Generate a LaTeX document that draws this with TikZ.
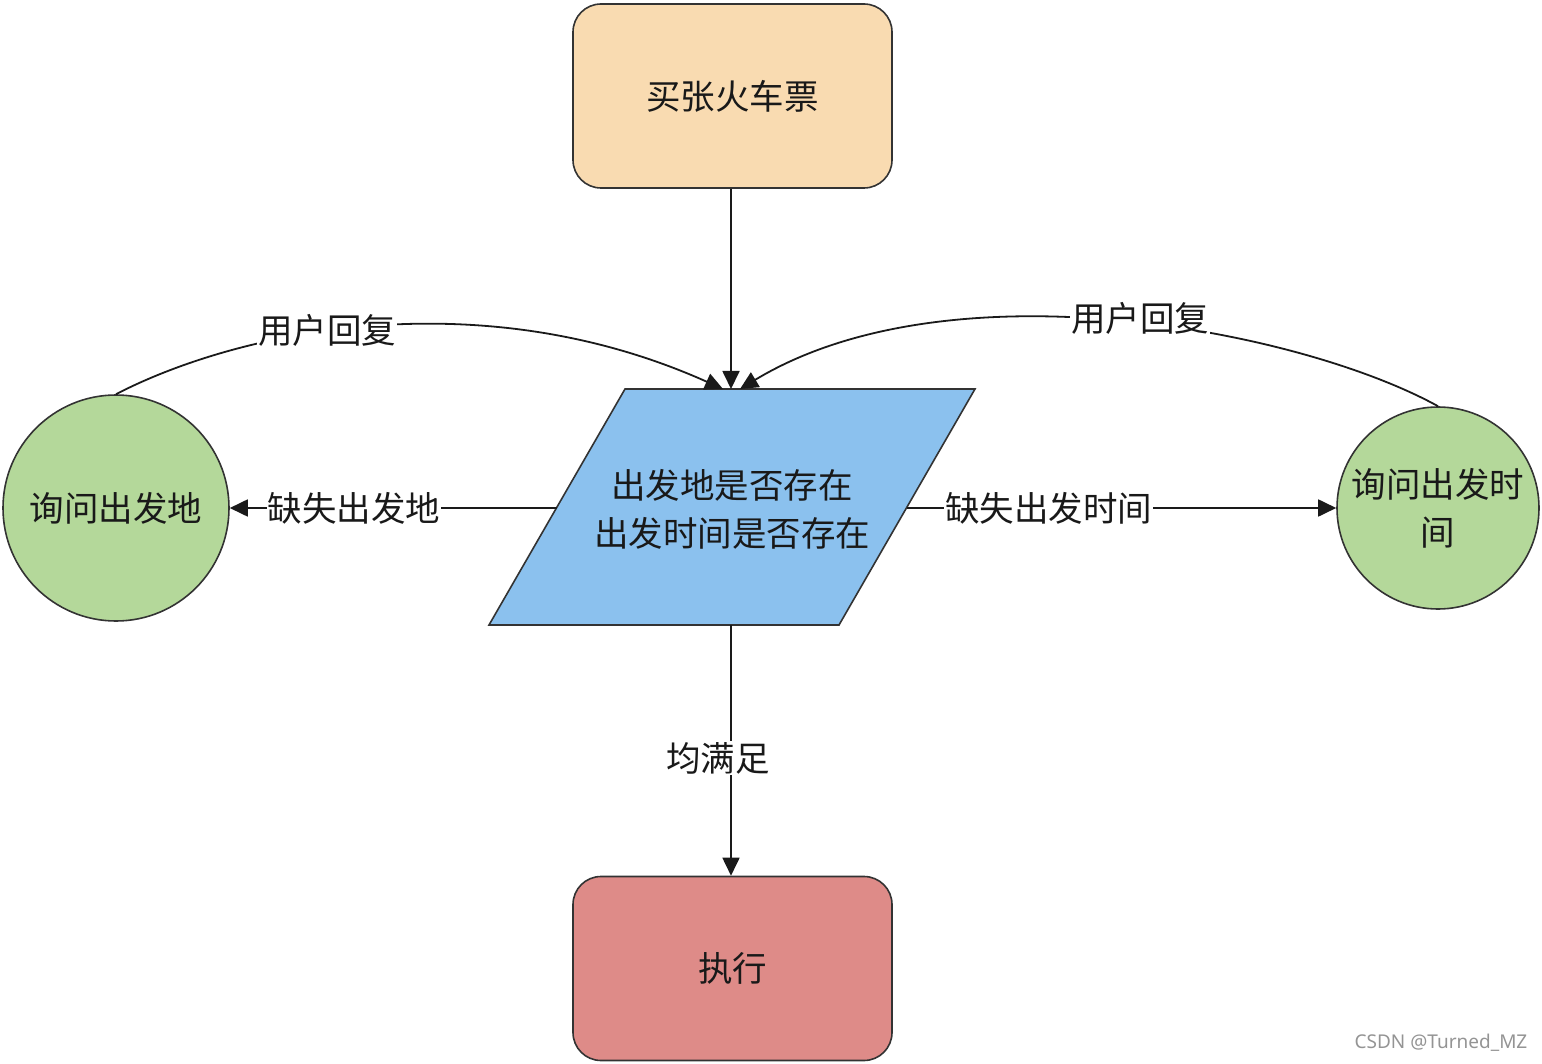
\documentclass[tikz,border=0pt]{standalone}
\usepackage{fontspec}
\setmainfont{Noto Sans}
\newfontfamily\cjk{Noto Sans CJK SC}
\usetikzlibrary{arrows.meta}
\definecolor{strokec}{HTML}{333333}
\definecolor{peach}{HTML}{F9DBB1}
\definecolor{bluef}{HTML}{8BC1EE}
\definecolor{greenf}{HTML}{B4D89A}
\definecolor{redf}{HTML}{DE8B88}
\definecolor{linec}{HTML}{1A1A1A}
\begin{document}
\begin{tikzpicture}[x=1pt,y=-1pt,
  box/.style={draw=strokec,line width=1.6pt,rounded corners=28pt,minimum width=319pt,minimum height=184pt,inner sep=0pt,font=\cjk\fontsize{34.5}{48}\selectfont,text=black!90},
  circ/.style={draw=strokec,line width=1.6pt,circle,fill=greenf,inner sep=0pt,font=\cjk\fontsize{34.5}{48}\selectfont,align=center,text=black!90},
  arr/.style={draw=linec,line width=1.8pt,-{Triangle[length=18pt,width=17pt]}},
  lbl/.style={fill=white,inner sep=1pt,font=\cjk\fontsize{34.5}{40}\selectfont,text=black!90}]
\useasboundingbox (0,0) rectangle (1542,1064);
% nodes
\node[box,fill=peach] (top) at (732.5,96) {买张火车票};
\node[box,fill=redf] (exec) at (732.5,968.5) {执行};
\node[circ,minimum size=226pt] (lc) at (116,508) {询问出发地};
\node[circ,minimum size=202pt] (rc) at (1438,508) {询问出发时\\间};
% parallelogram
\draw[draw=strokec,line width=1.6pt,fill=bluef] (625,389) -- (975,389) -- (839,625) -- (489,625) -- cycle;
\node[font=\cjk\fontsize{34.5}{48}\selectfont,align=center,text=black!90] (dec) at (732,509) {出发地是否存在\\出发时间是否存在};
\coordinate (dtop) at (731,389);
\coordinate (dbot) at (731,625);
\coordinate (dl) at (557,508);
\coordinate (dr) at (907,508);
\coordinate (tl) at (723,389);
\coordinate (tr) at (740,389);
% connectors
\draw[arr] (top.south -| dtop) -- (dtop);
\draw[arr] (dbot) -- (exec.north -| dbot);
\node[lbl] (l3) at (718,758) {均满足};
\draw[arr] (dl) -- node[lbl,pos=0.62] (l1) {缺失出发地} (lc.east);
\draw[arr] (dr) -- node[lbl,pos=0.33] (l2) {缺失出发时间} (rc.west);
\draw[arr] (lc.north) .. controls (240,330) and (480,280) .. (tl);
\node[lbl] (l4) at (327,330) {用户回复};
\draw[arr] (rc.north) .. controls (1300,330) and (950,262) .. (tr);
\node[lbl] (l5) at (1140,318) {用户回复};
% watermark
\node[font=\fontsize{19}{22}\selectfont,text=black!42] (wm) at (1441,1043) {CSDN @Turned\_MZ};
\end{tikzpicture}
\end{document}
